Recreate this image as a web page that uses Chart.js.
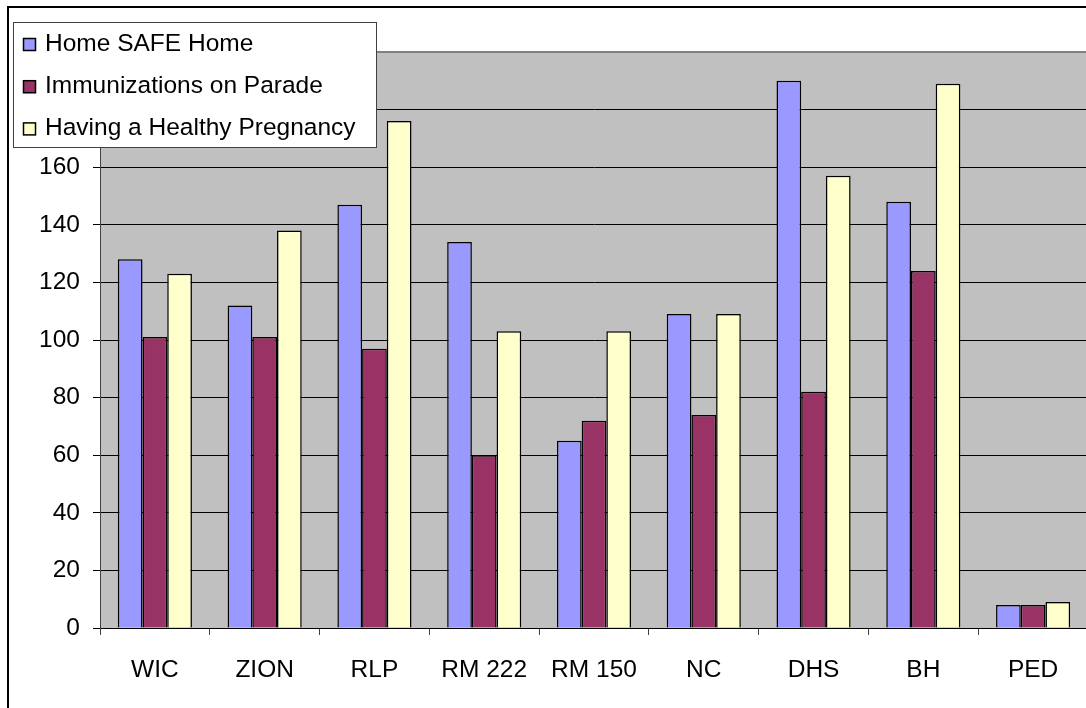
<!DOCTYPE html>
<html>
<head>
<meta charset="utf-8">
<script src="https://cdn.jsdelivr.net/npm/chart.js@4/dist/chart.umd.min.js"></script>
<style>
html,body{margin:0;padding:0;background:#fff;overflow:hidden;width:1086px;height:708px;}
#wrap{position:absolute;left:0;top:0;width:1096px;height:708px;}
</style>
</head>
<body>
<div id="wrap"><canvas id="c" width="1096" height="708"></canvas></div>
<script>
const categories = ["WIC", "ZION", "RLP", "RM 222", "RM 150", "NC", "DHS", "BH", "PED"];
const seriesNames = ["Home SAFE Home", "Immunizations on Parade", "Having a Healthy Pregnancy"];
const homeSafeHome = [128, 112, 147, 134, 65, 109, 190, 148, 8];
const immunizations = [101, 101, 97, 60, 72, 74, 82, 124, 8];
const healthyPregnancy = [123, 138, 176, 103, 103, 109, 157, 189, 9];
const yMin = 0, yMax = 200, yStep = 20;
const seriesColors = ["#9999FF", "#993366", "#FFFFCC"];

const FONT = "'Liberation Sans', Arial, sans-serif";

const decor = {
  id: 'decor',
  beforeDraw(chart) {
    const ctx = chart.ctx, a = chart.chartArea;
    ctx.save();
    ctx.fillStyle = '#fff';
    ctx.fillRect(0, 0, chart.width, chart.height);
    ctx.fillStyle = '#000';
    ctx.fillRect(7, 6, chart.width, 2);
    ctx.fillRect(7, 6, 2, chart.height);
    ctx.fillStyle = '#C0C0C0';
    ctx.fillRect(a.left, a.top, a.right - a.left, a.bottom - a.top);
    ctx.restore();
  },
  afterDraw(chart) {
    const ctx = chart.ctx;
    ctx.save();
    ctx.fillStyle = '#fff';
    ctx.fillRect(13, 22, 364, 126);
    ctx.strokeStyle = '#404040';
    ctx.lineWidth = 1;
    ctx.strokeRect(13.5, 22.5, 363, 125);
    ctx.font = "24.5px " + FONT;
    ctx.textBaseline = 'alphabetic';
    ctx.textAlign = 'left';
    chart.data.datasets.forEach((ds, i) => {
      const base = 51 + i * 42.2;
      ctx.fillStyle = ds.backgroundColor;
      ctx.fillRect(23, base - 13, 13, 13);
      ctx.strokeStyle = '#000';
      ctx.lineWidth = 1.5;
      ctx.strokeRect(23.5, base - 12.5, 12, 12);
      ctx.fillStyle = '#000';
      ctx.fillText(ds.label, 45, base);
    });
    ctx.restore();
  }
};

new Chart(document.getElementById('c'), {
  type: 'bar',
  data: {
    labels: categories,
    datasets: [
      { label: seriesNames[0], data: homeSafeHome, backgroundColor: seriesColors[0] },
      { label: seriesNames[1], data: immunizations, backgroundColor: seriesColors[1] },
      { label: seriesNames[2], data: healthyPregnancy, backgroundColor: seriesColors[2] }
    ]
  },
  options: {
    responsive: false,
    devicePixelRatio: 1,
    animation: false,
    layout: { padding: { left: 0, top: 52, right: 8, bottom: 0 } },
    datasets: {
      bar: {
        borderColor: '#000',
        borderWidth: 1.5,
        categoryPercentage: 0.675,
        barPercentage: 1
      }
    },
    plugins: {
      legend: { display: false },
      tooltip: { enabled: false },
      title: { display: false }
    },
    scales: {
      x: {
        offset: true,
        grid: {
          offset: true,
          drawOnChartArea: false,
          drawTicks: true,
          tickLength: 7,
          color: '#404040'
        },
        border: { color: '#000', width: 1 },
        ticks: {
          color: '#000',
          font: { family: FONT, size: 24.5 },
          padding: 21,
          maxRotation: 0,
          autoSkip: false
        },
        afterFit(scale) { scale.height = 80; }
      },
      y: {
        min: yMin,
        max: yMax,
        grid: {
          color: (c) => (c.tick && c.tick.value === yMax) ? '#808080' : '#000',
          lineWidth: (c) => (c.tick && c.tick.value === yMax) ? 2 : 1,
          tickLength: 7,
          drawTicks: true
        },
        border: { color: '#404040', width: 1 },
        ticks: {
          stepSize: yStep,
          color: '#000',
          font: { family: FONT, size: 24.5 },
          padding: 13
        },
        afterFit(scale) { scale.width = 100; }
      }
    }
  },
  plugins: [decor]
});
</script>
</body>
</html>
